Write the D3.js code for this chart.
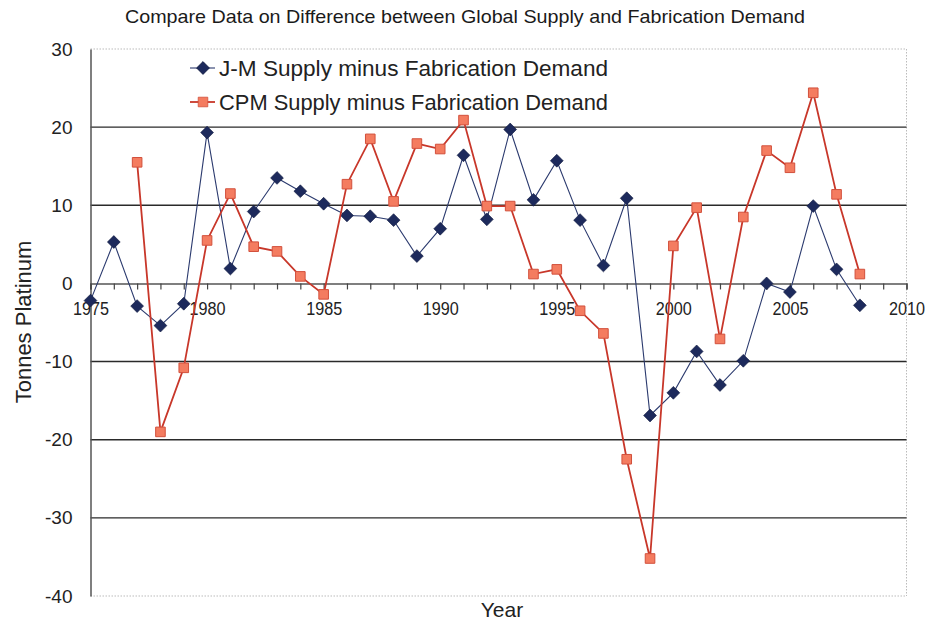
<!DOCTYPE html>
<html>
<head>
<meta charset="utf-8">
<script src="https://cdn.jsdelivr.net/npm/d3@7"></script>
<style>
  html, body { margin: 0; padding: 0; background: #fff; }
  svg { display: block; font-family: "Liberation Sans", Arial, sans-serif; }
</style>
</head>
<body>
<svg id="chart" width="930" height="623"></svg>
<script>
// Years covered by the Johnson Matthey series
const jmYears = [1975, 1976, 1977, 1978, 1979, 1980, 1981, 1982, 1983, 1984,
                 1985, 1986, 1987, 1988, 1989, 1990, 1991, 1992, 1993, 1994,
                 1995, 1996, 1997, 1998, 1999, 2000, 2001, 2002, 2003, 2004,
                 2005, 2006, 2007, 2008];
// J-M supply minus fabrication demand (tonnes)
const jmValues = [-2.2, 5.3, -2.9, -5.4, -2.6, 19.3, 1.9, 9.2, 13.5, 11.8,
                  10.2, 8.7, 8.6, 8.1, 3.5, 7.0, 16.4, 8.2, 19.7, 10.7,
                  15.7, 8.1, 2.3, 10.9, -16.9, -14.0, -8.7, -13.0, -9.9, 0.0,
                  -1.1, 9.9, 1.8, -2.8];

// Years covered by the CPM series
const cpmYears = [1977, 1978, 1979, 1980, 1981, 1982, 1983, 1984, 1985, 1986,
                  1987, 1988, 1989, 1990, 1991, 1992, 1993, 1994, 1995, 1996,
                  1997, 1998, 1999, 2000, 2001, 2002, 2003, 2004, 2005, 2006,
                  2007, 2008];
// CPM supply minus fabrication demand (tonnes)
const cpmValues = [15.5, -19.0, -10.8, 5.5, 11.5, 4.7, 4.1, 0.9, -1.4, 12.7,
                   18.5, 10.5, 17.9, 17.2, 20.9, 9.9, 9.9, 1.2, 1.8, -3.5,
                   -6.4, -22.5, -35.2, 4.8, 9.7, -7.1, 8.5, 17.0, 14.8, 24.4,
                   11.4, 1.2];

// Axis ticks
const xTickYears = [1975, 1976, 1977, 1978, 1979, 1980, 1981, 1982, 1983, 1984,
                    1985, 1986, 1987, 1988, 1989, 1990, 1991, 1992, 1993, 1994,
                    1995, 1996, 1997, 1998, 1999, 2000, 2001, 2002, 2003, 2004,
                    2005, 2006, 2007, 2008, 2009, 2010];
const xLabelYears = [1975, 1980, 1985, 1990, 1995, 2000, 2005, 2010];
const yTicks = [30, 20, 10, 0, -10, -20, -30, -40];
const gridValues = [20, 10, -10, -20, -30];

const seriesNames = ["J-M Supply minus Fabrication Demand",
                     "CPM Supply minus Fabrication Demand"];
const titleText = "Compare Data on Difference between Global Supply and Fabrication Demand";
const yTitle = "Tonnes Platinum";
const xTitle = "Year";

const svg = d3.select("#chart");

const plot = { left: 90.5, right: 906.5, top: 49, bottom: 596 };

const x = d3.scaleLinear().domain([1975, 2010]).range([plot.left, plot.right]);
const y = d3.scaleLinear().domain([-40, 30]).range([plot.bottom, plot.top]);

const navy = "#1d2a5c";
const navyLine = "#2b3a6e";
const red = "#c8372a";
const salmon = "#f47c60";

// Title
svg.append("text")
  .attr("x", 465).attr("y", 23)
  .attr("text-anchor", "middle")
  .attr("font-size", 19)
  .attr("fill", "#1a1a1a")
  .attr("textLength", 680)
  .attr("lengthAdjust", "spacingAndGlyphs")
  .text(titleText);

// Dotted frame (top, right, bottom)
const frame = svg.append("g")
  .attr("fill", "none")
  .attr("stroke", "#bbb")
  .attr("stroke-width", 1)
  .attr("stroke-dasharray", "1.5,1.5");
frame.append("line").attr("x1", plot.left).attr("x2", plot.right)
  .attr("y1", y(30)).attr("y2", y(30));
frame.append("line").attr("x1", plot.right).attr("x2", plot.right)
  .attr("y1", y(30)).attr("y2", y(-40));
frame.append("line").attr("x1", plot.left).attr("x2", plot.right)
  .attr("y1", y(-40)).attr("y2", y(-40));

// Horizontal gridlines
svg.append("g")
  .selectAll("line")
  .data(gridValues)
  .join("line")
  .attr("x1", plot.left).attr("x2", plot.right)
  .attr("y1", d => y(d)).attr("y2", d => y(d))
  .attr("stroke", "#2a2a2a")
  .attr("stroke-width", 1.4);

// Y axis
const yAxis = svg.append("g")
  .attr("transform", `translate(${plot.left},0)`)
  .call(d3.axisLeft(y).tickValues(yTicks).tickSize(0).tickPadding(18)
        .tickFormat(d => String(d)));
yAxis.select(".domain").attr("stroke", "#555").attr("stroke-width", 1.5);
yAxis.selectAll("text")
  .attr("font-size", 19)
  .attr("fill", "#222")
  .attr("font-family", "Liberation Sans, Arial, sans-serif");

// X axis along zero
const xAxis = svg.append("g")
  .attr("transform", `translate(0,${y(0)})`)
  .call(d3.axisBottom(x).tickValues(xTickYears).tickSize(6).tickPadding(13)
        .tickFormat(d => xLabelYears.includes(d) ? String(d) : ""));
xAxis.select(".domain").attr("stroke", "#555").attr("stroke-width", 1.5);
xAxis.selectAll(".tick line").attr("stroke", "#444").attr("stroke-width", 1.2);
xAxis.selectAll("text")
  .attr("font-size", 18)
  .attr("fill", "#222")
  .attr("font-family", "Liberation Sans, Arial, sans-serif")
  .each(function (d) {
    if (xLabelYears.includes(d)) {
      d3.select(this).attr("textLength", 36).attr("lengthAdjust", "spacingAndGlyphs");
    }
  });

// Axis titles
svg.append("text")
  .attr("transform", `translate(31,322) rotate(-90)`)
  .attr("text-anchor", "middle")
  .attr("font-size", 22)
  .attr("fill", "#222")
  .text(yTitle);

svg.append("text")
  .attr("x", 502).attr("y", 617)
  .attr("text-anchor", "middle")
  .attr("font-size", 21)
  .attr("fill", "#222")
  .text(xTitle);

// Series data
const jmData = jmYears.map((yr, i) => ({ year: yr, value: jmValues[i] }));
const cpmData = cpmYears.map((yr, i) => ({ year: yr, value: cpmValues[i] }));

const line = d3.line().x(d => x(d.year)).y(d => y(d.value));
// Diamond = square turned 45 degrees
const diamond = d3.symbol().type(d3.symbolSquare).size(82);
const square = d3.symbol().type(d3.symbolSquare).size(92);

// J-M series
svg.append("path")
  .datum(jmData)
  .attr("fill", "none")
  .attr("stroke", navyLine)
  .attr("stroke-width", 1.1)
  .attr("d", line);
svg.append("g")
  .selectAll("path")
  .data(jmData)
  .join("path")
  .attr("transform", d => `translate(${x(d.year)},${y(d.value)}) rotate(45)`)
  .attr("d", diamond)
  .attr("fill", navy)
  .attr("stroke", "#101a40")
  .attr("stroke-width", 0.6);

// CPM series
svg.append("path")
  .datum(cpmData)
  .attr("fill", "none")
  .attr("stroke", red)
  .attr("stroke-width", 1.8)
  .attr("d", line);
svg.append("g")
  .selectAll("path")
  .data(cpmData)
  .join("path")
  .attr("transform", d => `translate(${x(d.year)},${y(d.value)})`)
  .attr("d", square)
  .attr("fill", salmon)
  .attr("stroke", "#d2503c")
  .attr("stroke-width", 1);

// Legend
const legendRows = [
  { name: seriesNames[0], y: 68, symbol: diamond, rot: 45, fill: navy, stroke: "#101a40", lineColor: navyLine, lw: 1.1 },
  { name: seriesNames[1], y: 102, symbol: square, rot: 0, fill: salmon, stroke: "#d2503c", lineColor: red, lw: 1.8 }
];
const legend = svg.append("g");
legendRows.forEach(r => {
  const g = legend.append("g");
  g.append("line")
    .attr("x1", 190).attr("x2", 215)
    .attr("y1", r.y).attr("y2", r.y)
    .attr("stroke", r.lineColor).attr("stroke-width", r.lw);
  g.append("path")
    .attr("transform", `translate(203,${r.y}) rotate(${r.rot})`)
    .attr("d", r.symbol)
    .attr("fill", r.fill)
    .attr("stroke", r.stroke)
    .attr("stroke-width", 0.8);
  g.append("text")
    .attr("x", 219).attr("y", r.y + 8)
    .attr("font-size", 22)
    .attr("fill", "#222")
    .attr("textLength", 389)
    .attr("lengthAdjust", "spacingAndGlyphs")
    .text(r.name);
});
</script>
</body>
</html>
